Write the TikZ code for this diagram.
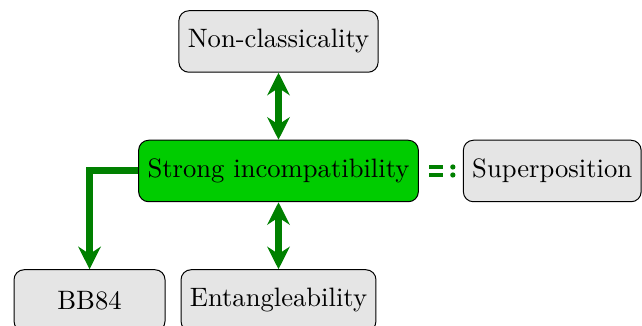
\documentclass[tikz,border=0pt]{standalone}
\usepackage{fontspec}
\usetikzlibrary{arrows.meta,positioning}
\definecolor{forest}{RGB}{0,128,0}
\definecolor{lime}{RGB}{0,204,0}
\definecolor{mist}{RGB}{229,229,229}
\tikzset{
  >={Stealth[length=9pt,width=9pt]},
  box/.style={draw=black,fill=#1,rounded corners=4pt,inner xsep=3.55pt,
    minimum height=24.6pt,align=center,font=\fontsize{10.65pt}{13pt}\selectfont},
  box/.default=mist,
  flow/.style={#1,draw=forest,line width=2.8pt},
  flow/.default=->,
  % the "=:" sign between two boxes
  pics/defeq/.style={code={
    \fill[#1] (-4.8pt,0.8pt) rectangle (0.8pt,2.4pt);
    \fill[#1] (-4.8pt,-2.4pt) rectangle (0.8pt,-0.8pt);
    \fill[#1] (4.8pt,1.6pt) circle (1.05pt);
    \fill[#1] (4.8pt,-1.6pt) circle (1.05pt);
  }},
  pics/defeq/.default=forest,
}
\begin{document}
\begin{tikzpicture}
  \useasboundingbox (-111.4pt,-62pt) rectangle (145.4pt,68.4pt);
  \node[box=lime] (strong) at (0,0) {Strong incompatibility};
  \node[box,above=26.8pt of strong] (noncl) {Non-classicality};
  \node[box,below=26.8pt of strong] (ent) {Entangleability};
  \node[box,left=6pt of ent,minimum width=60.4pt] (bb) {BB84};
  \node[box,right=17.6pt of strong] (sup) {Superposition};
  \draw[flow=<->] (noncl) -- (strong);
  \draw[flow=<->] (strong) -- (ent);
  \draw[flow] (strong.west) -| (bb.north);
  \path (strong.east) -- pic[midway] {defeq} (sup.west);
\end{tikzpicture}
\end{document}
